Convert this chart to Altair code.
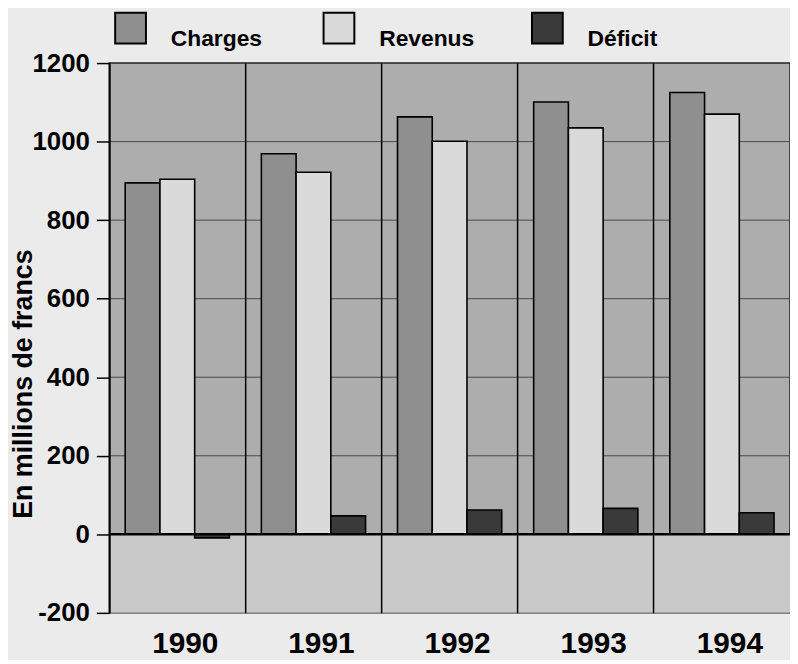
import altair as alt
import pandas as pd

years = ["1990", "1991", "1992", "1993", "1994"]
series = ["Charges", "Revenus", "Déficit"]
charges = [895, 969, 1063, 1101, 1125]
revenus = [904, 922, 1001, 1035, 1070]
deficit = [-9, 47, 62, 66, 55]
colors = ["#8f8f8f", "#dadada", "#3a3a3a"]
y_min, y_max = -200, 1200
grid_vals = [200, 400, 600, 800, 1000]
tick_vals = list(range(-200, 1201, 50))

rows = []
for i, yr in enumerate(years):
    for s, vals in zip(series, [charges, revenus, deficit]):
        rows.append({"year": yr, "serie": s, "value": vals[i]})
df = pd.DataFrame(rows)

W, H = 686, 554
yscale = alt.Scale(domain=[y_min, y_max], nice=False, zero=False)

lower = alt.Chart(pd.DataFrame({"lo": [y_min], "hi": [0]})).mark_rect(
    color="#c9c9c9"
).encode(
    y=alt.Y("lo:Q", scale=yscale),
    y2="hi:Q",
)

grid = alt.Chart(pd.DataFrame({"v": grid_vals})).mark_rule(
    color="#4a4a4a", strokeWidth=1
).encode(y=alt.Y("v:Q", scale=yscale))

bars = alt.Chart(df).mark_bar(stroke="black", strokeWidth=1.6, opacity=1).encode(
    x=alt.X(
        "year:N",
        sort=years,
        scale=alt.Scale(paddingInner=0, paddingOuter=0),
        axis=alt.Axis(
            title=None, labelAngle=0, labelFontSize=30, labelFontWeight="bold",
            labelColor="black", labelFont="Liberation Sans", ticks=False,
            labelPadding=16, labelOffset=8, domain=False, grid=True,
            gridColor="black", gridWidth=1.5, bandPosition=0, zindex=1,
        ),
    ),
    xOffset=alt.XOffset(
        "serie:N", sort=series,
        scale=alt.Scale(paddingInner=0, paddingOuter=0.46),
    ),
    y=alt.Y(
        "value:Q",
        scale=yscale,
        axis=alt.Axis(
            title="En millions de francs",
            titleFontSize=27, titleFontWeight="bold", titleColor="black",
            titleFont="Liberation Sans", titleBaseline="alphabetic",
            titleAlign="center", titleAngle=270, titleX=-78, titleY=323,
            values=tick_vals,
            labelExpr="datum.value % 200 === 0 ? '' + datum.value : ''",
            labelFontSize=26, labelFontWeight="bold", labelColor="black",
            labelFont="Liberation Sans", labelPadding=7,
            tickSize={"condition": {"test": "datum.value % 200 === 0", "value": 13}, "value": 5},
            tickColor="black", tickWidth=1.5,
            domain=True, domainColor="black", domainWidth=1.5,
            grid=False, zindex=1,
        ),
    ),
    color=alt.Color(
        "serie:N",
        sort=series,
        scale=alt.Scale(domain=series, range=colors),
        legend=alt.Legend(
            orient="none", legendX=5, legendY=-52, direction="horizontal",
            title=None, symbolType="square", symbolSize=961,
            symbolStrokeColor="black", symbolStrokeWidth=2, symbolOpacity=1,
            labelFontSize=23, labelFontWeight="bold", labelColor="black",
            labelFont="Liberation Sans", labelOffset=24, columnPadding=54,
            gridAlign="all", labelBaseline="top", padding=0,
        ),
    ),
)

zero = alt.Chart(pd.DataFrame({"v": [0]})).mark_rule(
    color="black", strokeWidth=2.5
).encode(y=alt.Y("v:Q", scale=yscale))

chart = alt.layer(lower, grid, bars, zero).properties(
    width=W, height=H,
    autosize=alt.AutoSizeParams(type="none"),
    padding={"left": 102, "top": 53, "right": 0, "bottom": 45},
    background="#ebebeb",
).configure_view(
    fill="#adadad", stroke="#222222", strokeWidth=1.5
)

chart.save("out.html", embed_options={"renderer": "svg", "actions": False})
